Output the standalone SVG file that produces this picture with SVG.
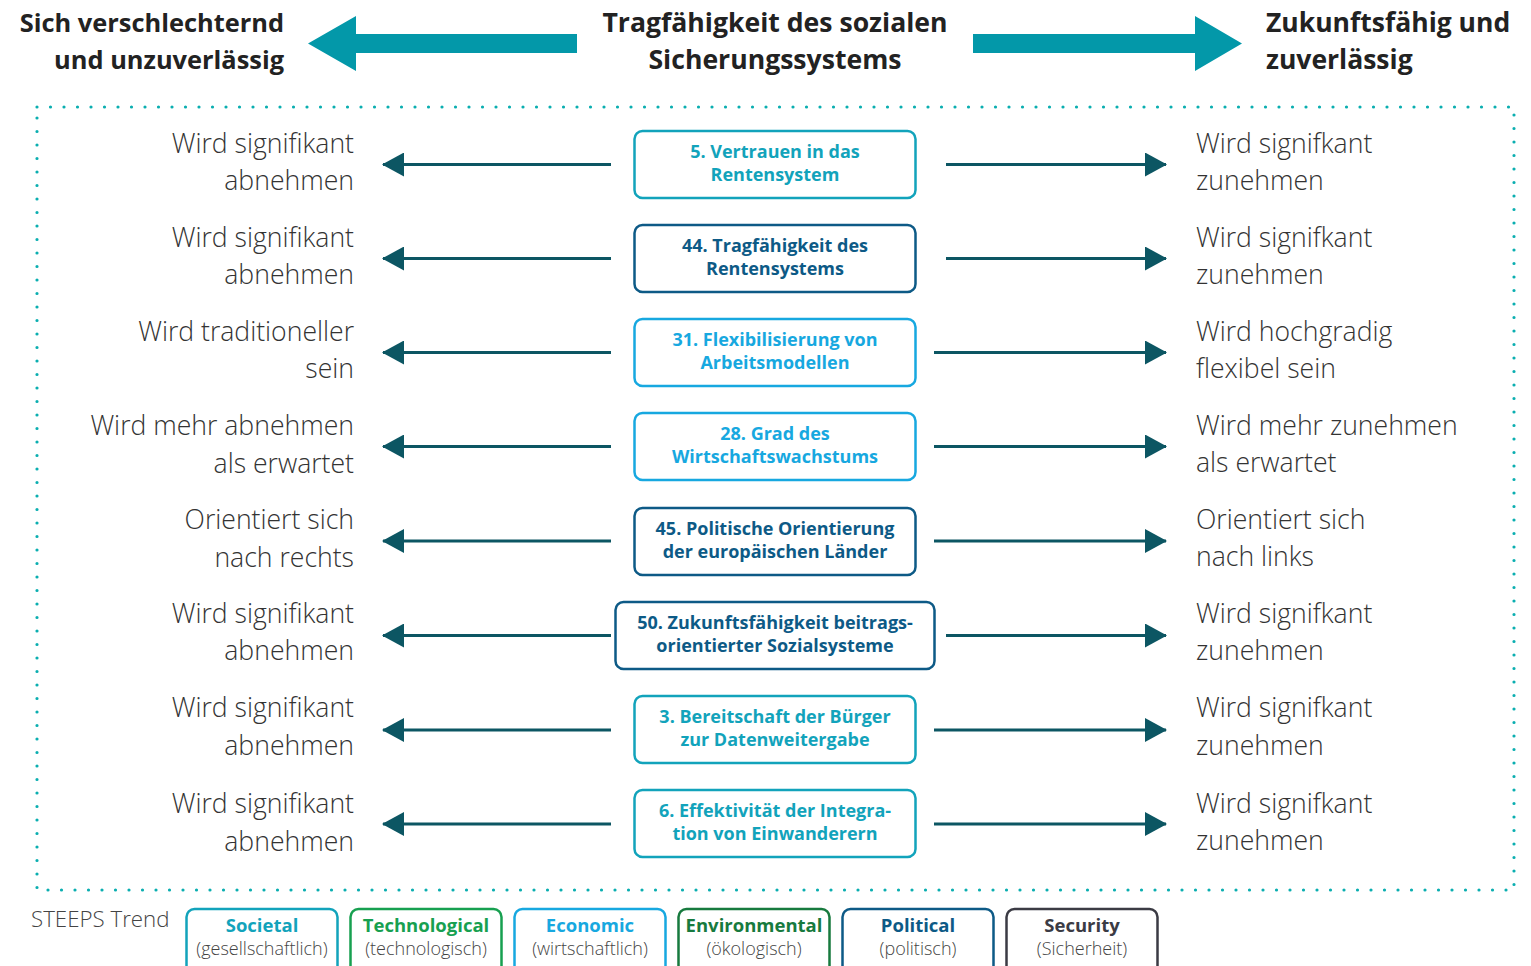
<svg xmlns="http://www.w3.org/2000/svg" width="1531" height="966" viewBox="0 0 1531 966">
<defs>
<style>
text{font-family:"Open Sans","Noto Sans","Liberation Sans",sans-serif}
.hd{font-weight:700;fill:#222}
.hl{font-size:25.4px}
.hc{font-size:26.6px}
.hr{font-size:26.5px}
.side{font-size:26.6px;font-weight:300;fill:#333}
.lt{text-anchor:end}
.nt{font-size:18px;font-weight:700;text-anchor:middle}
.box{fill:#fff;stroke-width:2.5}
.soc{stroke:#12a3bb}.socT{fill:#12a3bb}
.pol{stroke:#0d5a86}.polT{fill:#0d5a86}
.eco{stroke:#17a8e0}.ecoT{fill:#17a8e0}
.tec{stroke:#17a050}.tecT{fill:#17a050}
.env{stroke:#177a3e}.envT{fill:#177a3e}
.sec{stroke:#3b3b44}.secT{fill:#3b3b44}
.conn{stroke:#0c5663;stroke-width:3;fill:none}
.lg{font-size:18.5px;font-weight:700;text-anchor:middle}
.ls{font-size:18px;font-weight:300;text-anchor:middle;fill:#444}
</style>
<marker id="ah" viewBox="0 0 22 24" refX="21" refY="12" markerWidth="22" markerHeight="24" markerUnits="userSpaceOnUse" orient="auto">
<path d="M0,0 L22,12 L0,24 z" fill="#0c5663"/>
</marker>
</defs>

<g id="header">
<text class="hd hl" x="284" y="32" text-anchor="end">Sich verschlechternd</text>
<text class="hd hl" x="284" y="69" text-anchor="end">und unzuverlässig</text>
<text class="hd hc" x="775" y="32" text-anchor="middle">Tragfähigkeit des sozialen</text>
<text class="hd hc" x="775" y="69" text-anchor="middle">Sicherungssystems</text>
<text class="hd hr" x="1266" y="32">Zukunftsfähig und</text>
<text class="hd hr" x="1266" y="69">zuverlässig</text>
<polygon points="577,34 356,34 356,16 308,43.5 356,71 356,53 577,53" fill="#0398a9"/>
<polygon points="973,34 1195,34 1195,16 1242,43.5 1195,71 1195,53 973,53" fill="#0398a9"/>
</g>

<rect id="frame" x="37" y="107" width="1477" height="783" fill="none" stroke="#0aaeb0" stroke-width="3.2" stroke-linecap="round" stroke-dasharray="0 13.5"/>

<g id="connectors">
<line class="conn" x1="611" y1="164.5" x2="383" y2="164.5" marker-end="url(#ah)"/>
<line class="conn" x1="946" y1="164.5" x2="1166" y2="164.5" marker-end="url(#ah)"/>
<line class="conn" x1="611" y1="258.5" x2="383" y2="258.5" marker-end="url(#ah)"/>
<line class="conn" x1="946" y1="258.5" x2="1166" y2="258.5" marker-end="url(#ah)"/>
<line class="conn" x1="611" y1="352.5" x2="383" y2="352.5" marker-end="url(#ah)"/>
<line class="conn" x1="934" y1="352.5" x2="1166" y2="352.5" marker-end="url(#ah)"/>
<line class="conn" x1="611" y1="446.5" x2="383" y2="446.5" marker-end="url(#ah)"/>
<line class="conn" x1="934" y1="446.5" x2="1166" y2="446.5" marker-end="url(#ah)"/>
<line class="conn" x1="611" y1="541" x2="383" y2="541" marker-end="url(#ah)"/>
<line class="conn" x1="934" y1="541" x2="1166" y2="541" marker-end="url(#ah)"/>
<line class="conn" x1="611" y1="635.5" x2="383" y2="635.5" marker-end="url(#ah)"/>
<line class="conn" x1="946" y1="635.5" x2="1166" y2="635.5" marker-end="url(#ah)"/>
<line class="conn" x1="611" y1="730" x2="383" y2="730" marker-end="url(#ah)"/>
<line class="conn" x1="934" y1="730" x2="1166" y2="730" marker-end="url(#ah)"/>
<line class="conn" x1="611" y1="824" x2="383" y2="824" marker-end="url(#ah)"/>
<line class="conn" x1="934" y1="824" x2="1166" y2="824" marker-end="url(#ah)"/>
</g>

<g id="left-labels">
<text class="side lt" x="354" y="153">Wird signifikant</text>
<text class="side lt" x="354" y="190">abnehmen</text>
<text class="side lt" x="354" y="247">Wird signifikant</text>
<text class="side lt" x="354" y="284">abnehmen</text>
<text class="side lt" x="354" y="341">Wird traditioneller</text>
<text class="side lt" x="354" y="378">sein</text>
<text class="side lt" x="354" y="435">Wird mehr abnehmen</text>
<text class="side lt" x="354" y="473">als erwartet</text>
<text class="side lt" x="354" y="529">Orientiert sich</text>
<text class="side lt" x="354" y="567">nach rechts</text>
<text class="side lt" x="354" y="623">Wird signifikant</text>
<text class="side lt" x="354" y="660">abnehmen</text>
<text class="side lt" x="354" y="717">Wird signifikant</text>
<text class="side lt" x="354" y="755">abnehmen</text>
<text class="side lt" x="354" y="813">Wird signifikant</text>
<text class="side lt" x="354" y="851">abnehmen</text>
</g>

<g id="right-labels">
<text class="side" x="1196" y="153">Wird signifkant</text>
<text class="side" x="1196" y="190">zunehmen</text>
<text class="side" x="1196" y="247">Wird signifkant</text>
<text class="side" x="1196" y="284">zunehmen</text>
<text class="side" x="1196" y="341">Wird hochgradig</text>
<text class="side" x="1196" y="378">flexibel sein</text>
<text class="side" x="1196" y="435">Wird mehr zunehmen</text>
<text class="side" x="1196" y="472">als erwartet</text>
<text class="side" x="1196" y="529">Orientiert sich</text>
<text class="side" x="1196" y="566">nach links</text>
<text class="side" x="1196" y="623">Wird signifkant</text>
<text class="side" x="1196" y="660">zunehmen</text>
<text class="side" x="1196" y="717">Wird signifkant</text>
<text class="side" x="1196" y="755">zunehmen</text>
<text class="side" x="1196" y="813">Wird signifkant</text>
<text class="side" x="1196" y="850">zunehmen</text>
</g>

<g id="node-5">
<rect class="box soc" x="634.5" y="131" width="281" height="67" rx="8"/>
<text class="nt socT" x="775" y="158">5. Vertrauen in das</text>
<text class="nt socT" x="775" y="181">Rentensystem</text>
</g>
<g id="node-44">
<rect class="box pol" x="634.5" y="225" width="281" height="67" rx="8"/>
<text class="nt polT" x="775" y="252">44. Tragfähigkeit des</text>
<text class="nt polT" x="775" y="275">Rentensystems</text>
</g>
<g id="node-31">
<rect class="box eco" x="634.5" y="319" width="281" height="67" rx="8"/>
<text class="nt ecoT" x="775" y="346">31. Flexibilisierung von</text>
<text class="nt ecoT" x="775" y="369">Arbeitsmodellen</text>
</g>
<g id="node-28">
<rect class="box eco" x="634.5" y="413" width="281" height="67" rx="8"/>
<text class="nt ecoT" x="775" y="440">28. Grad des</text>
<text class="nt ecoT" x="775" y="463">Wirtschaftswachstums</text>
</g>
<g id="node-45">
<rect class="box pol" x="634.5" y="508" width="281" height="67" rx="8"/>
<text class="nt polT" x="775" y="535">45. Politische Orientierung</text>
<text class="nt polT" x="775" y="558">der europäischen Länder</text>
</g>
<g id="node-50">
<rect class="box pol" x="615.5" y="602" width="319" height="67" rx="8"/>
<text class="nt polT" x="775" y="629">50. Zukunftsfähigkeit beitrags-</text>
<text class="nt polT" x="775" y="652">orientierter Sozialsysteme</text>
</g>
<g id="node-3">
<rect class="box soc" x="634.5" y="696" width="281" height="67" rx="8"/>
<text class="nt socT" x="775" y="723">3. Bereitschaft der Bürger</text>
<text class="nt socT" x="775" y="746">zur Datenweitergabe</text>
</g>
<g id="node-6">
<rect class="box soc" x="634.5" y="790" width="281" height="67" rx="8"/>
<text class="nt socT" x="775" y="817">6. Effektivität der Integra-</text>
<text class="nt socT" x="775" y="840">tion von Einwanderern</text>
</g>

<g id="legend">
<text x="31" y="927" font-size="22.3" font-weight="300" fill="#444">STEEPS Trend</text>
<g id="lg-soc">
<rect class="box soc" x="186.5" y="909" width="151" height="66" rx="8"/>
<text class="lg socT" x="262" y="932">Societal</text>
<text class="ls" x="262" y="955">(gesellschaftlich)</text>
</g>
<g id="lg-tec">
<rect class="box tec" x="350.5" y="909" width="151" height="66" rx="8"/>
<text class="lg tecT" x="426" y="932">Technological</text>
<text class="ls" x="426" y="955">(technologisch)</text>
</g>
<g id="lg-eco">
<rect class="box eco" x="514.5" y="909" width="151" height="66" rx="8"/>
<text class="lg ecoT" x="590" y="932">Economic</text>
<text class="ls" x="590" y="955">(wirtschaftlich)</text>
</g>
<g id="lg-env">
<rect class="box env" x="678.5" y="909" width="151" height="66" rx="8"/>
<text class="lg envT" x="754" y="932">Environmental</text>
<text class="ls" x="754" y="955">(ökologisch)</text>
</g>
<g id="lg-pol">
<rect class="box pol" x="842.5" y="909" width="151" height="66" rx="8"/>
<text class="lg polT" x="918" y="932">Political</text>
<text class="ls" x="918" y="955">(politisch)</text>
</g>
<g id="lg-sec">
<rect class="box sec" x="1006.5" y="909" width="151" height="66" rx="8"/>
<text class="lg secT" x="1082" y="932">Security</text>
<text class="ls" x="1082" y="955">(Sicherheit)</text>
</g>
</g>
</svg>
